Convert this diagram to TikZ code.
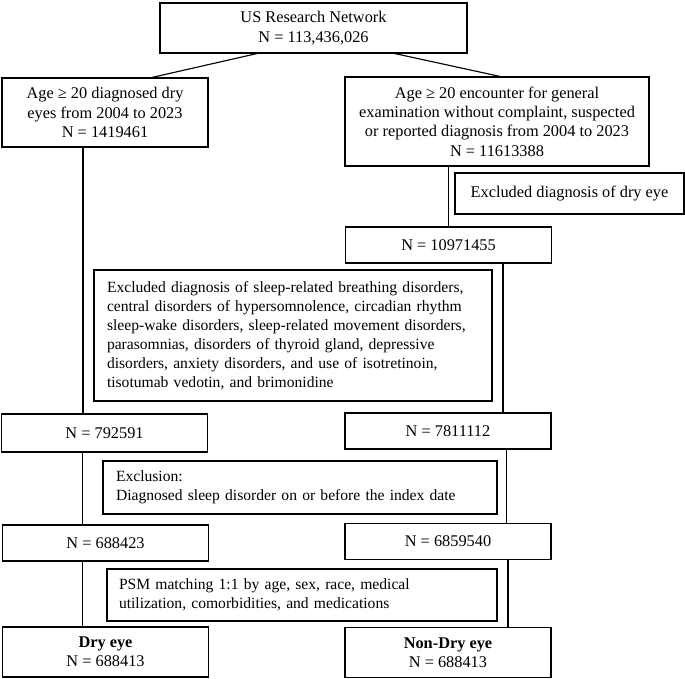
\documentclass[tikz,border=0pt]{standalone}
\usepackage{fontspec}
\setmainfont{Liberation Serif}
\usepackage{tikz}
\usetikzlibrary{calc,positioning}
\tikzset{
  box/.style={
    rectangle,
    draw=black, line width=0.85pt,
    inner sep=0pt,
    align=center,
    font=\fontsize{12.25}{14.5}\selectfont},
  nbox/.style={box, minimum width=154.5pt, minimum height=27pt},
  exbox/.style={box, align=left, inner xsep=9.75pt,
    font=\fontsize{11.7}{14.2}\selectfont},
  line/.style={draw, line width=0.85pt},
}
\begin{document}
\begin{tikzpicture}[
    x=0.75pt, y=-0.75pt,
    every node/.style={color=black}
    ]
    \useasboundingbox (0,0) rectangle (685,678);

    %top
    \node[box, minimum width=230.25pt, minimum height=37.5pt] (net) at (313.5,28)
        {US Research Network\\N = 113,436,026};

    %first split
    \node[box, minimum width=154.5pt, minimum height=51.75pt] (dry) at (105,112.5)
        {Age ≥ 20 diagnosed dry\\eyes from 2004 to 2023\\N = 1419461};
    \node[box, minimum width=228pt, minimum height=66.75pt] (gen) at (497,121.5)
        {Age ≥ 20 encounter for general\\examination without complaint, suspected\\or reported diagnosis from 2004 to 2023\\N = 11613388};

    %exclusions
    \node[box, minimum width=171.75pt, minimum height=30.75pt] (exdry) at (569.5,193.5)
        {Excluded diagnosis of dry eye};
    \node[nbox] (gen2) at (448.5,245) {N = 10971455};
    \node[exbox, text width=279pt, minimum height=98.25pt] (exsleep) at (293,335.5)
        {Excluded diagnosis of sleep-related breathing disorders,\\
         central disorders of hypersomnolence, circadian rhythm\\
         sleep-wake disorders, sleep-related movement disorders,\\
         parasomnias, disorders of thyroid gland, depressive\\
         disorders, anxiety disorders, and use of isotretinoin,\\
         tisotumab vedotin, and brimonidine};
    \node[nbox, minimum height=28.5pt] (dry2) at (104.5,433) {N = 792591};
    \node[nbox] (gen3) at (448,431) {N = 7811112};

    \node[exbox, text width=276pt, minimum height=39.75pt] (exidx) at (300,487.5)
        {Exclusion:\\Diagnosed sleep disorder on or before the index date};
    \node[nbox] (dry3) at (105.5,543) {\raisebox{-3pt}{N = 688423}};
    \node[nbox] (gen4) at (448,541.5) {N = 6859540};

    %matching
    \node[exbox, inner xsep=9pt, text width=274.5pt, minimum height=39pt] (psm) at (302,595)
        {PSM matching 1:1 by age, sex, race, medical\\utilization, comorbidities, and medications};
    \node[nbox, minimum height=37.5pt] (dryeye) at (105.5,652)
        {\textbf{Dry eye}\\N = 688413};
    \node[nbox, minimum height=37.5pt] (nondry) at (448,652.5)
        {\textbf{Non-Dry eye}\\N = 688413};

    %connectors
    \draw[line] ([xshift=-42.4pt]net.south) -- ([xshift=35.25pt]dry.north);
    \draw[line] ([xshift=61pt]net.south) -- ([xshift=2.25pt]gen.north);
    \draw[line] ([xshift=-16.5pt]dry.south) -- ([xshift=-16.5pt]dry.south |- dry2.north);
    \draw[line] ([xshift=-16.5pt]dry2.south) -- ([xshift=-16.5pt]dry2.south |- dry3.north);
    \draw[line] ([xshift=-17.25pt]dry3.south) -- ([xshift=-17.25pt]dry3.south |- dryeye.north);
    \draw[line] (gen2.north) -- (gen2.north |- gen.south);
    \draw[line] ([xshift=40.9pt]gen2.south) -- ([xshift=40.9pt]gen2.south |- gen3.north);
    \draw[line] ([xshift=44pt]gen3.south) -- ([xshift=44pt]gen3.south |- gen4.north);
    \draw[line] ([xshift=45pt]gen4.south) -- ([xshift=45pt]gen4.south |- nondry.north);

\end{tikzpicture}
\end{document}
